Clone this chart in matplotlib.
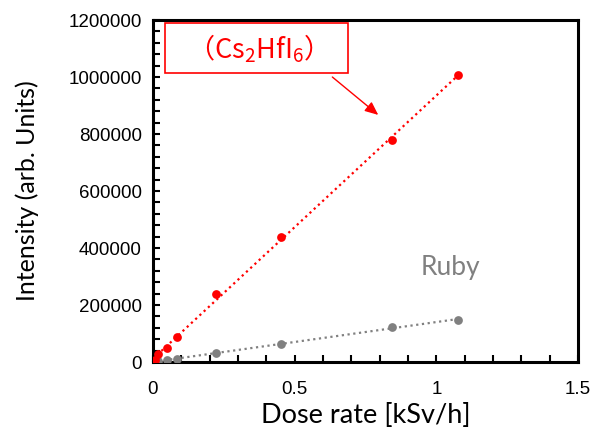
import numpy as np
import matplotlib
matplotlib.use("Agg")
import matplotlib.pyplot as plt
from matplotlib.patches import Rectangle
from matplotlib.ticker import MultipleLocator

# dose rate [kSv/h] and measured intensity
cs_dose = [0.007, 0.018, 0.049, 0.085, 0.222, 0.451, 0.844, 1.077]
cs_int = [6000, 28000, 49000, 87000, 239000, 439000, 779000, 1007000]
ruby_dose = [0.007, 0.018, 0.049, 0.085, 0.222, 0.451, 0.844, 1.077]
ruby_int = [1000, 3000, 7000, 10000, 33000, 64000, 123000, 147000]

x_ticks = [0, 0.5, 1, 1.5]
x_labels = ["0", "0.5", "1", "1.5"]
y_ticks = [0, 200000, 400000, 600000, 800000, 1000000, 1200000]

label_font = "Lato"
tick_font = {"family": "Liberation Sans", "size": 13.5}

fig = plt.figure(figsize=(5.92, 4.37), dpi=100)
ax = fig.add_axes([0.2584, 0.1716, 0.7180, 0.7826])

def trend(x, y, color):
    k, b = np.polyfit(x, y, 1)
    xs = np.array([0, max(x)])
    ax.plot(xs, k * xs + b, color=color, lw=1.6, ls=(0, (1, 1.6)), zorder=2)

trend(ruby_dose, ruby_int, "#808080")
trend(cs_dose, cs_int, "#ff0000")
ax.plot(ruby_dose, ruby_int, "o", color="#808080", ms=6.3, mec="none", zorder=3)
ax.plot(cs_dose, cs_int, "o", color="#ff0000", ms=6.3, mec="none", zorder=4)

ax.set_xlim(0, 1.5)
ax.set_ylim(0, 1200000)
ax.set_xticks(x_ticks)
ax.set_xticklabels(x_labels, fontdict=tick_font)
ax.set_yticks(y_ticks)
ax.set_yticklabels([str(v) for v in y_ticks], fontdict=tick_font)
ax.xaxis.set_minor_locator(MultipleLocator(0.1))
ax.yaxis.set_minor_locator(MultipleLocator(40000))
ax.tick_params(which="both", direction="in", width=1.5, length=5, top=False, right=False)
ax.tick_params(axis="x", which="major", pad=14)
ax.tick_params(axis="y", which="major", pad=8)
for s in ax.spines.values():
    s.set_linewidth(2.2)

ax.set_xlabel("Dose rate [kSv/h]", family=label_font, fontsize=19.5, labelpad=3)
ax.set_ylabel("Intensity (arb. Units)", family=label_font, fontsize=18, labelpad=21)

ax.text(1.05, 330000, "Ruby", color="#808080", family=label_font, fontsize=19,
        ha="center", va="center")
ax.annotate("", xy=(0.795, 867000), xytext=(0.633, 1000000),
            arrowprops=dict(arrowstyle="-|>,head_length=0.8,head_width=0.35",
                            color="#ff0000", lw=1.0, shrinkA=0, shrinkB=0))
ax.add_patch(Rectangle((0.042, 1014000), 0.646, 176000, fc="white", ec="#ff0000",
                       lw=1.2, zorder=5))
# the compound name in a CJK face, so the full-width brackets render
ax.text(0.345, 1100000, r"（Cs$_\mathregular{2}$HfI$_\mathregular{6}$）",
        color="#ff0000", family="Noto Sans CJK JP",
        fontsize=19.5, ha="center", va="center", zorder=6)

fig.savefig("out.png", dpi=100)
